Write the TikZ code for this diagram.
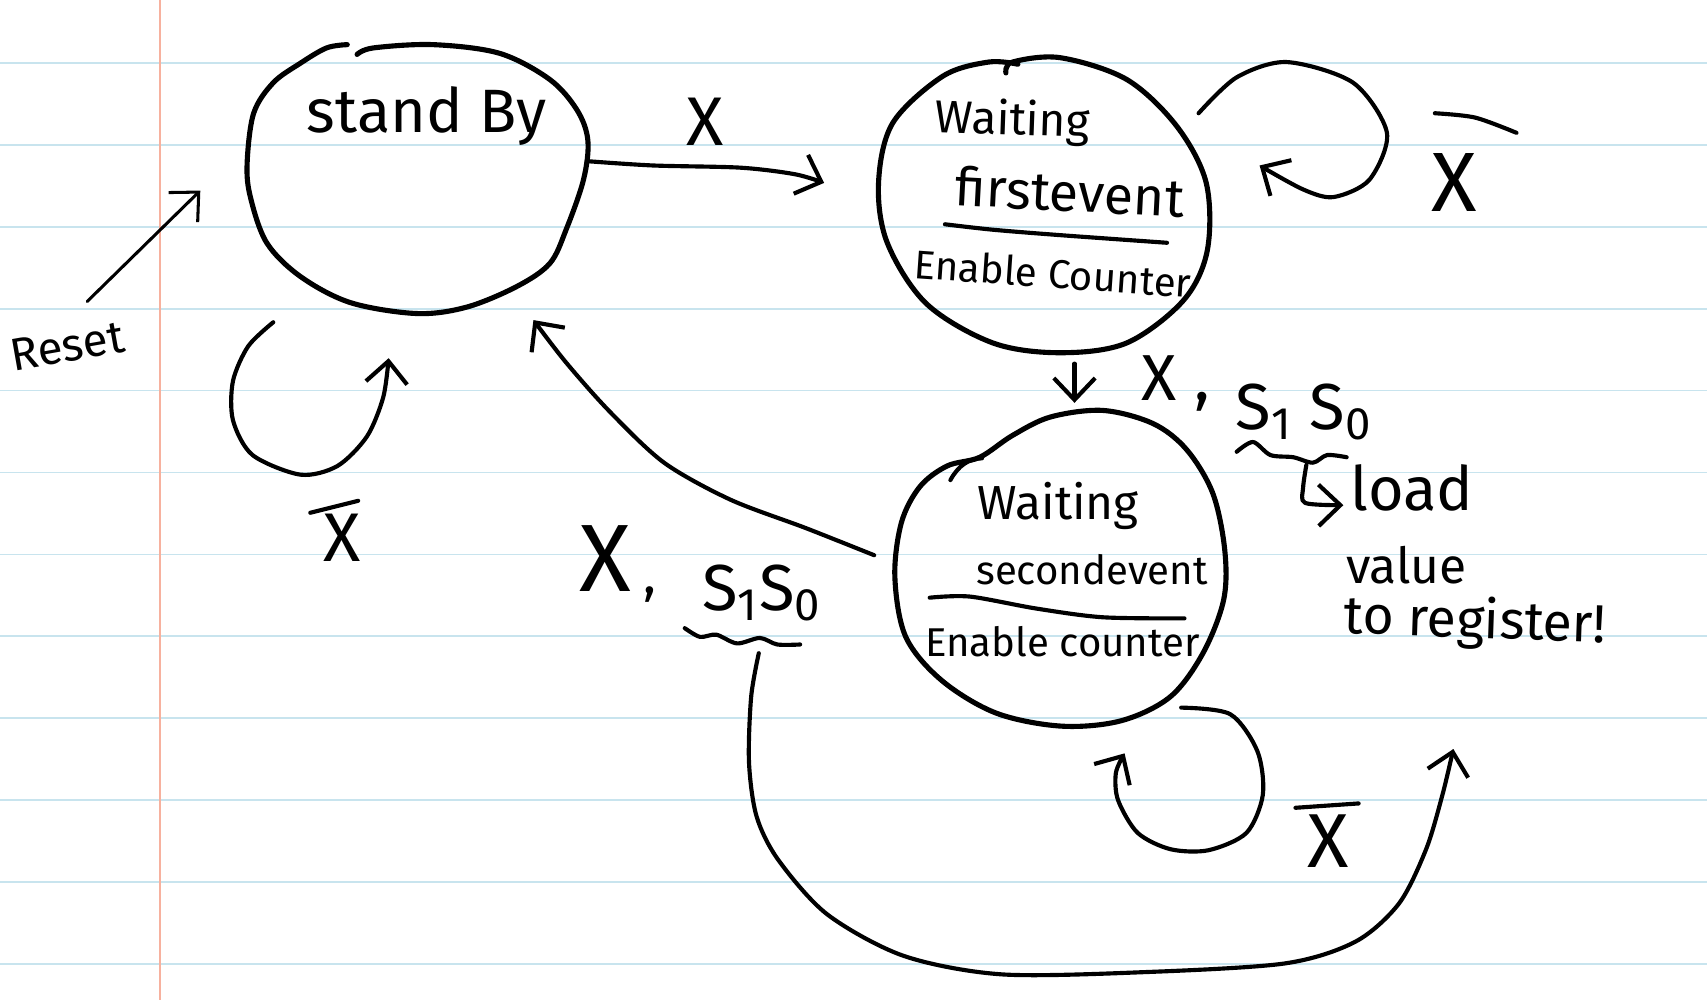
\documentclass[tikz,border=0pt]{standalone}
\usepackage{fontspec}
\setmainfont{Fira Sans}
\usetikzlibrary{arrows.meta}
\definecolor{paperline}{RGB}{200,228,238}
\definecolor{margincol}{RGB}{247,177,158}
\begin{document}
\begin{tikzpicture}[x=0.1mm,y=-0.1mm,
  ink/.style={line width=0.47mm, line cap=round, line join=round},
  conn/.style={line width=0.38mm, line cap=round, line join=round},
  thinconn/.style={line width=0.28mm, line cap=round, line join=round},
  tip/.style={-{Straight Barb[length=2mm,width=3.8mm]}},
  hand/.style={inner sep=0pt, text=black},
  hs/.style args={#1}{hand, font=\fontsize{#1}{#1}\selectfont},
]
% paper
\useasboundingbox (0,0) rectangle (1568,919);
\fill[white] (0,0) rectangle (1568,919);
\foreach \k in {0,...,11}
  \draw[paperline, line width=0.15mm] (0,{58+75.2*\k}) -- (1568,{58+75.2*\k});
\draw[margincol, line width=0.25mm] (147,0) -- (147,919);

% ---------- state: stand By ----------
\draw[ink] plot[smooth, tension=0.55] coordinates {(328,50) (343,44) (398,41) (459,49) (505,73) (530,101) (540,129) (536,165) (520,211) (505,242) (475,263) (429,282) (383,288) (322,278) (276,254) (245,223) (230,181) (227,150) (233,104) (251,76) (276,58) (300,44) (319,41)};
\node[hs=16] (sbtxt) at (392,107) {stand By};

% ---------- state: Waiting firstevent ----------
\draw[ink] plot[smooth, tension=0.55] coordinates {(924,67) (930,57) (974,53) (1035,73) (1081,116) (1108,168) (1109,230) (1087,276) (1035,315) (974,324) (912,315) (851,279) (815,223) (807,168) (820,113) (866,70) (908,57) (935,59)};
\node[hs=12, rotate=-2] (w1a) at (930,112) {Waiting};
\node[hs=14, rotate=-3] (w1b) at (983,176) {firstevent};
\draw[conn] plot[smooth] coordinates {(868,206) (912,211) (974,216) (1072,223)};
\node[hs=10.5, rotate=-4] (w1c) at (967,251) {Enable Counter};

% ---------- state: Waiting secondevent ----------
\draw[ink] plot[smooth cycle, tension=0.55] coordinates {(1013,377) (1059,389) (1090,413) (1114,453) (1125,505) (1124,551) (1105,600) (1075,640) (1030,662) (975,667) (915,655) (865,625) (832,585) (822,530) (828,480) (845,447) (870,428) (900,420) (930,400) (965,383)};
\draw[conn] (873,441) .. controls (880,428) and (890,421) .. (902,421);
\node[hs=12.5] (w2a) at (972,465) {Waiting};
\node[hs=10.5] (w2b) at (1003,523) {secondevent};
\draw[conn] plot[smooth] coordinates {(854,549) (891,548) (952,559) (1013,567) (1088,568)};
\node[hs=10.5] (w2c) at (976,589) {Enable counter};

% ---------- endpoints ----------
\coordinate (rs) at (80,277);
\coordinate (sbW) at (184,175);
\coordinate (sbE) at (539,148);
\coordinate (w1W) at (757,168);
\coordinate (sbL1) at (251,296);
\coordinate (sbL2) at (357,329);
\coordinate (w1L1) at (1101,104);
\coordinate (w1L2) at (1157,152);
\coordinate (w1S) at (987,334);
\coordinate (w2N) at (987,370);
\coordinate (w2W) at (803,510);
\coordinate (sbSE) at (490,294);
\coordinate (w2L1) at (1085,650);
\coordinate (w2L2) at (1033,692);
\coordinate (regA) at (697,600);
\coordinate (regB) at (1335,688);

% ---------- connectors ----------
% reset
\draw[thinconn, tip] (rs) -- (sbW);
\node[hs=12, rotate=10] (reset) at (62,318) {Reset};
% stand By -> Waiting first
\draw[conn, tip] plot[smooth] coordinates {(sbE) (600,152) (680,154) (730,160) (w1W)};
\node[hs=18] (lx1) at (648,112) {X};
% stand By self loop
\draw[conn, tip] plot[smooth] coordinates {(sbL1) (228,318) (214,350) (214,386) (232,418) (276,436) (310,428) (337,401) (352,365) (sbL2)};
\node[hs=18] (lx2) at (314,494) {X};
\draw[conn] (285,471) -- (329,460);
% Waiting first self loop
\draw[conn, tip] plot[smooth] coordinates {(w1L1) (1136,71) (1182,57) (1243,76) (1274,122) (1258,165) (1225,181) (1197,174) (w1L2)};
\node[hs=22] (lx3) at (1336,168) {X};
\draw[conn] plot[smooth] coordinates {(1318,104) (1355,108) (1393,122)};
% Waiting first -> Waiting second
\draw[conn, tip] (w1S) -- (w2N);
\node[hs=17] (lx4) at (1080,352) {X ,};
\node[hs=17] (ls4) at (1198,378) {S\textsubscript{1} S\textsubscript{0}};
\draw[conn] plot[smooth] coordinates {(1136,415) (1151,406) (1167,418) (1188,420) (1206,425) (1219,418) (1237,420)};
\draw[conn, tip] plot[smooth] coordinates {(1200,427) (1197,448) (1199,462) (1234,464)};
\node[hs=16] (load) at (1297,448) {load};
\node[hs=13] (value) at (1292,519) {value};
\node[hs=14, rotate=-2] (toreg) at (1355,572) {to register!};
% Waiting second -> stand By
\draw[conn, tip] plot[smooth] coordinates {(w2W) (740,485) (671,459) (610,425) (560,378) (520,333) (sbSE)};
\node[hs=25] (lx5) at (556,513) {X};
\node[hs=14] (lc5) at (597,546) {,};
\node[hs=17] (ls5) at (700,545) {S\textsubscript{1}S\textsubscript{0}};
\draw[conn] plot[smooth] coordinates {(629,577) (643,585) (658,583) (677,591) (698,586) (714,592) (735,592)};
% Waiting second self loop
\draw[conn, tip] plot[smooth] coordinates {(w2L1) (1130,656) (1155,690) (1160,730) (1145,765) (1110,781) (1075,780) (1045,765) (1027,735) (1025,710) (w2L2)};
\node[hs=20] (lx6) at (1220,773) {X};
\draw[conn] (1190,742) -- (1248,738);
% to register long arrow
\draw[conn, tip] plot[smooth] coordinates {(regA) (690,640) (688,700) (695,750) (715,790) (760,840) (830,878) (920,895) (1050,893) (1180,885) (1245,865) (1285,830) (1310,780) (1325,730) (regB)};
\end{tikzpicture}
\end{document}
